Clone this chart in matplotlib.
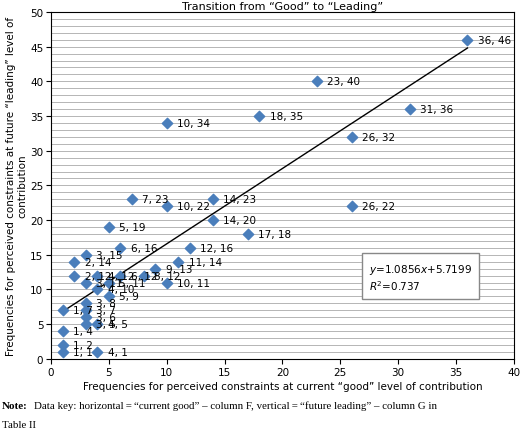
import matplotlib.pyplot as plt
import numpy as np

xs = [1,1,1,1,3,3,3,3,4,4,4,5,3,5,2,4,6,8,9,10,11,12,6,5,3,2,7,10,10,14,14,17,18,23,26,26,31,36]
ys = [1,2,4,7,5,6,7,8,5,1,10,9,11,11,12,12,12,12,13,11,14,16,16,19,15,14,23,22,34,23,20,18,35,40,32,22,36,46]
slope, intercept = 1.0856, 5.7199

fig = plt.figure(figsize=(5.2,4.31), dpi=100)
ax = fig.add_axes([0.098, 0.165, 0.89, 0.805])
ax.set_xlim(0,40); ax.set_ylim(0,50)
ax.set_xticks(range(0,41,5)); ax.set_yticks(range(0,51,5))
ax.set_yticks(range(0,51,1), minor=True)
ax.grid(True, which='both', axis='y', color='#aaaaaa', lw=0.6)
ax.tick_params(labelsize=7.5, which='minor', length=0)
ax.tick_params(labelsize=7.5, pad=2)
ax.set_axisbelow(True)
ax.scatter(xs, ys, marker='D', s=28, color='#4a7ebb', zorder=3)
for x,y in zip(xs,ys):
    ax.text(x+0.9, y, f"{x}, {y}", fontsize=7.5, va='center', zorder=4)
xl = np.array([1,36])
ax.plot(xl, slope*xl+intercept, color='black', lw=1, zorder=2)
ax.text(27.5, 11.8, "$y$=1.0856$x$+5.7199\n$R^2$=0.737", fontsize=7.5, va='center',
        bbox=dict(facecolor='white', edgecolor='#888888', pad=5), zorder=5)
ax.set_title("Transition from \u201cGood\u201d to \u201cLeading\u201d", fontsize=8, pad=2)
ax.set_xlabel("Frequencies for perceived constraints at current \u201cgood\u201d level of contribution", fontsize=7.5, labelpad=3)
ax.set_ylabel("Frequencies for perceived constraints at future \u201cleading\u201d level of\ncontribution", fontsize=7.5, labelpad=2)
fig.text(0.004, 0.05, "Note:", fontsize=8, weight='bold', family='Liberation Serif')
fig.text(0.065, 0.05, "Data key: horizontal\u2009=\u2009\u201ccurrent good\u201d \u2013 column F, vertical\u2009=\u2009\u201cfuture leading\u201d \u2013 column G in",
         fontsize=7.8, family='Liberation Serif')
fig.text(0.004, 0.008, "Table II", fontsize=7.8, family='Liberation Serif')
fig.savefig("out.png")
